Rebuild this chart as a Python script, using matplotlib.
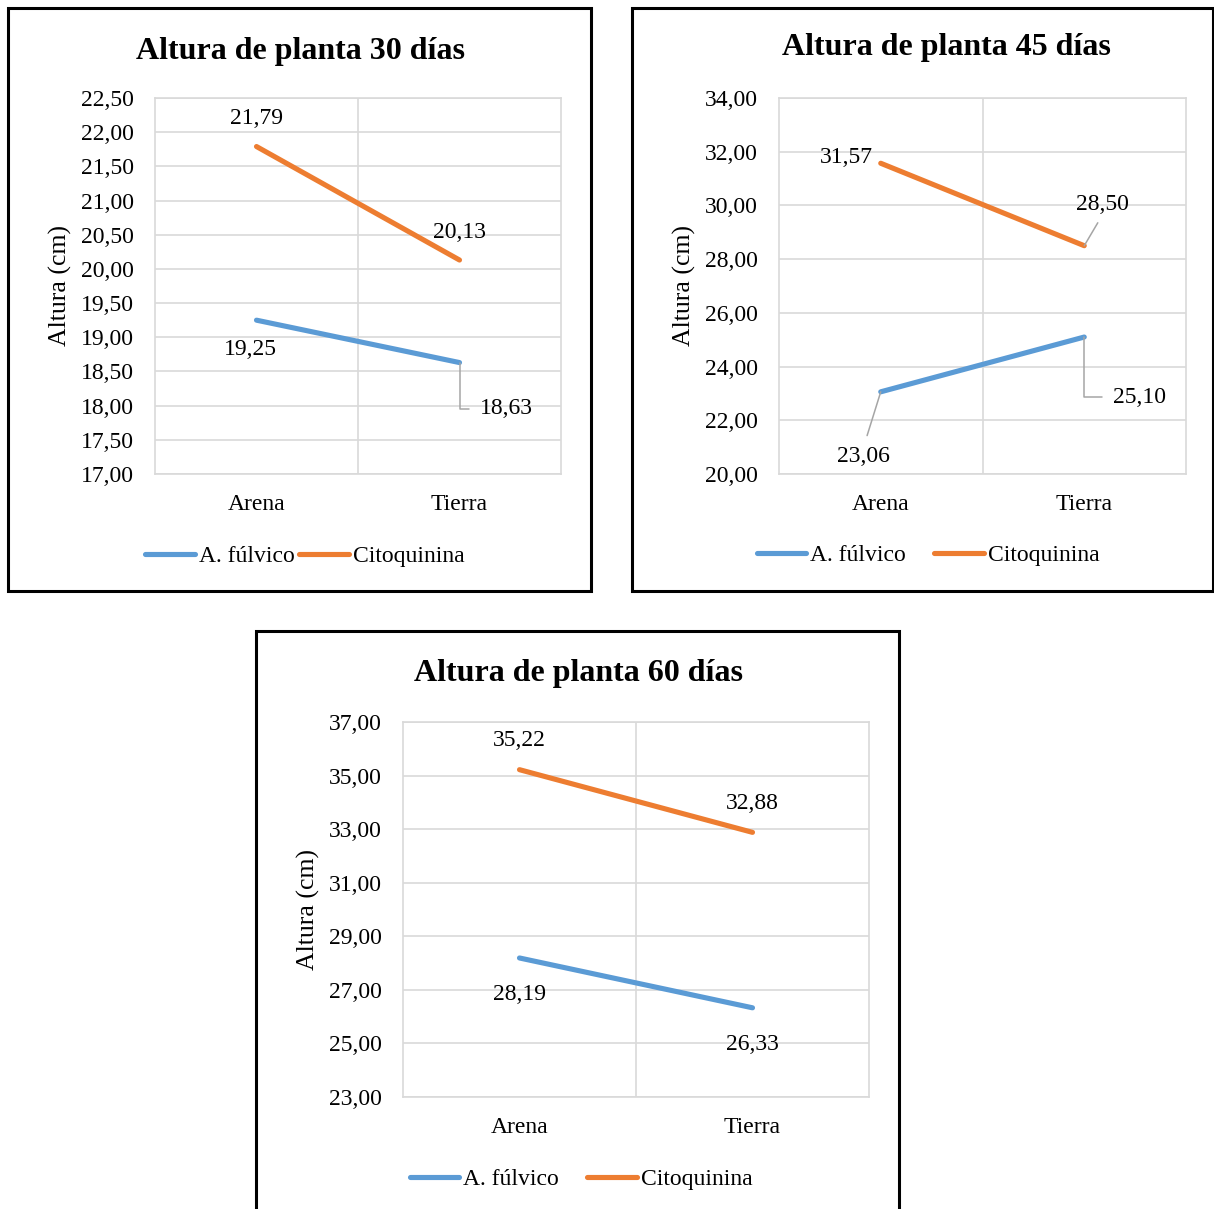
import matplotlib.pyplot as plt
from matplotlib.patches import Rectangle
import numpy as np

plt.rcParams['font.family'] = ['Liberation Serif', 'DejaVu Serif']

# tamaño de la figura en pixeles (dpi 100)
W, H = 1214, 1209

categorias = ['Arena', 'Tierra']
series = ['A. fúlvico', 'Citoquinina']
colores = ['#5B9BD5', '#ED7D31']

fulvico_30 = [19.25, 18.63]
citoq_30 = [21.79, 20.13]
fulvico_45 = [23.06, 25.10]
citoq_45 = [31.57, 28.50]
fulvico_60 = [28.19, 26.33]
citoq_60 = [35.22, 32.88]


def fx(px):
    return px / W


def fy(py):
    return 1 - py / H


# caja, area de trazado, titulo, leyenda y posicion de etiquetas (offset en px + tipo de guia)
paneles = [
    dict(titulo='Altura de planta 30 días', datos=[fulvico_30, citoq_30],
         ylim=(17, 22.5), paso=0.5,
         caja=(8, 8, 591, 591), area=(155, 98, 561, 474),
         tit=(300, 51), ley=(305, 556), colsp=0.2,
         etiq=[[(-6, -29, None), (47, -46, 'codo')],
               [(0, 28, None), (0, 28, None)]]),
    dict(titulo='Altura de planta 45 días', datos=[fulvico_45, citoq_45],
         ylim=(20, 34), paso=2,
         caja=(632, 8, 1213, 591), area=(779, 98, 1186, 474),
         tit=(946, 47), ley=(928, 555), colsp=1.2,
         etiq=[[(-17, -65, 'abajo'), (55, -60, 'codo')],
               [(-34, 6, None), (18, 41, 'arriba')]]),
    dict(titulo='Altura de planta 60 días', datos=[fulvico_60, citoq_60],
         ylim=(23, 37), paso=2,
         caja=(256, 631, 899, 1230), area=(403, 722, 869, 1097),
         tit=(578, 674), ley=(581, 1179), colsp=1.2,
         etiq=[[(0, -37, None), (0, -37, None)],
               [(0, 29, None), (0, 29, None)]]),
]

fig = plt.figure(figsize=(W / 100, H / 100), dpi=100)

for p in paneles:
    x0, y0, x1, y1 = p['caja']
    fig.patches.append(Rectangle((fx(x0), fy(y1)), fx(x1) - fx(x0), fy(y0) - fy(y1),
                                 transform=fig.transFigure, fill=False,
                                 edgecolor='black', lw=2.2, zorder=0))

    a0, b0, a1, b1 = p['area']
    ax = fig.add_axes([fx(a0), fy(b1), fx(a1) - fx(a0), fy(b0) - fy(b1)])

    lineas = []
    for vals, nombre, c in zip(p['datos'], series, colores):
        ln, = ax.plot(range(len(categorias)), vals, color=c, lw=3.7,
                      solid_capstyle='round', label=nombre, zorder=3)
        lineas.append(ln)

    ax.set_xlim(-0.5, 1.5)
    ax.set_ylim(*p['ylim'])
    yt = np.arange(p['ylim'][0], p['ylim'][1] + p['paso'] / 2, p['paso'])
    ax.set_yticks(yt)
    ax.set_yticklabels([f'{v:.2f}'.replace('.', ',') for v in yt])
    ax.set_xticks(range(len(categorias)))
    ax.set_xticklabels(categorias)
    ax.set_xticks([0.5], minor=True)
    ax.tick_params(axis='both', which='both', length=0, labelsize=17)
    ax.tick_params(axis='y', pad=15)
    ax.tick_params(axis='x', pad=14.5)
    ax.grid(axis='y', color='#D9D9D9', lw=1.2)
    ax.grid(axis='x', which='minor', color='#D9D9D9', lw=1.2)
    ax.set_axisbelow(True)
    for s in ax.spines.values():
        s.set_color('#D9D9D9')
        s.set_linewidth(1.2)

    ax.set_ylabel('Altura (cm)', fontsize=18.5)
    ax.yaxis.set_label_coords(-95 / (a1 - a0), 0.5)
    ax.yaxis.label.set_va('center')

    # etiquetas de datos
    for vals, offs in zip(p['datos'], p['etiq']):
        for i, (v, (dx, dy, guia)) in enumerate(zip(vals, offs)):
            kw = dict(xy=(i, v), xytext=(dx, dy), textcoords='offset pixels',
                      ha='center', va='center', fontsize=17, zorder=4)
            flecha = dict(arrowstyle='-', color='#A5A5A5', lw=1.1, shrinkB=0)
            if guia == 'codo':
                flecha.update(relpos=(0, 0.5), shrinkA=6,
                              connectionstyle='angle,angleA=0,angleB=90,rad=0')
                kw['arrowprops'] = flecha
            elif guia == 'arriba':
                flecha.update(relpos=(0.5, 0), shrinkA=4)
                kw['arrowprops'] = flecha
            elif guia == 'abajo':
                flecha.update(relpos=(0.5, 1), shrinkA=6)
                kw['arrowprops'] = flecha
            ax.annotate(f'{v:.2f}'.replace('.', ','), **kw)

    fig.text(fx(p['tit'][0]), fy(p['tit'][1]), p['titulo'], fontsize=23,
             fontweight='bold', ha='center', va='center')

    ax.legend(handles=lineas, loc='center', ncol=2,
              bbox_to_anchor=(fx(p['ley'][0]), fy(p['ley'][1])),
              bbox_transform=fig.transFigure, frameon=False, fontsize=17,
              handlelength=2.1, handletextpad=0.17, columnspacing=p['colsp'],
              borderpad=0, borderaxespad=0)

fig.savefig('out.png', dpi=100)
